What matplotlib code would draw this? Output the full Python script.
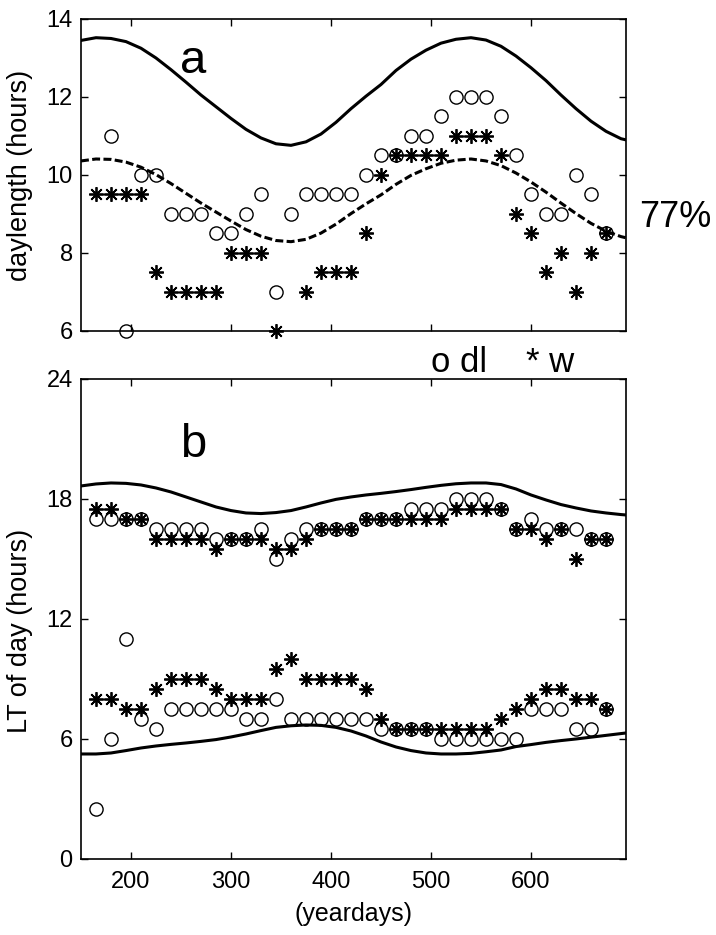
import matplotlib
matplotlib.use('Agg')
import matplotlib.pyplot as plt
import numpy as np

nan = np.nan

# ---------------- data ----------------
days = [165, 180, 195, 210, 225, 240, 255, 270, 285, 300, 315, 330, 345, 360,
        375, 390, 405, 420, 435, 450, 465, 480, 495, 510, 525, 540, 555, 570,
        585, 600, 615, 630, 645, 660, 675]

# panel a: daylength (hours)
dl_len = [nan, 11, 6, 10, 10, 9, 9, 9, 8.5, 8.5, 9, 9.5, 7, 9,
          9.5, 9.5, 9.5, 9.5, 10, 10.5, 10.5, 11, 11, 11.5, 12, 12, 12, 11.5,
          10.5, 9.5, 9, 9, 10, 9.5, 8.5]
w_len = [9.5, 9.5, 9.5, 9.5, 7.5, 7, 7, 7, 7, 8, 8, 8, 6, nan,
         7, 7.5, 7.5, 7.5, 8.5, 10, 10.5, 10.5, 10.5, 10.5, 11, 11, 11, 10.5,
         9, 8.5, 7.5, 8, 7, 8, 8.5]

# panel b: local time of day (hours)
dl_set = [17, 17, 17, 17, 16.5, 16.5, 16.5, 16.5, 16, 16, 16, 16.5, 15, 16,
          16.5, 16.5, 16.5, 16.5, 17, 17, 17, 17.5, 17.5, 17.5, 18, 18, 18, 17.5,
          16.5, 17, 16.5, 16.5, 16.5, 16, 16]
dl_rise = [2.5, 6, 11, 7, 6.5, 7.5, 7.5, 7.5, 7.5, 7.5, 7, 7, 8, 7,
           7, 7, 7, 7, 7, 6.5, 6.5, 6.5, 6.5, 6, 6, 6, 6, 6,
           6, 7.5, 7.5, 7.5, 6.5, 6.5, 7.5]
w_set = [17.5, 17.5, 17, 17, 16, 16, 16, 16, 15.5, 16, 16, 16, 15.5, 15.5,
         16, 16.5, 16.5, 16.5, 17, 17, 17, 17, 17, 17, 17.5, 17.5, 17.5, 17.5,
         16.5, 16.5, 16, 16.5, 15, 16, 16]
w_rise = [8, 8, 7.5, 7.5, 8.5, 9, 9, 9, 8.5, 8, 8, 8, 9.5, 10,
          9, 9, 9, 9, 8.5, 7, 6.5, 6.5, 6.5, 6.5, 6.5, 6.5, 6.5, 7,
          7.5, 8, 8.5, 8.5, 8, 8, 7.5]

# reference curves
curve_days = [150, 165, 180, 195, 210, 225, 240, 255, 270, 285, 300, 315, 330,
              345, 360, 375, 390, 405, 420, 435, 450, 465, 480, 495, 510, 525,
              540, 555, 570, 585, 600, 615, 630, 645, 660, 675, 690, 695]
daylength = [13.45, 13.52, 13.5, 13.42, 13.25, 13.0, 12.7, 12.38, 12.05, 11.75,
             11.45, 11.17, 10.95, 10.8, 10.76, 10.85, 11.05, 11.35, 11.7, 12.02,
             12.32, 12.68, 12.97, 13.2, 13.38, 13.48, 13.52, 13.46, 13.3, 13.05,
             12.75, 12.42, 12.05, 11.7, 11.38, 11.12, 10.93, 10.9]
daylength77 = [10.36, 10.41, 10.4, 10.33, 10.2, 10.01, 9.78, 9.53, 9.28, 9.05,
               8.82, 8.6, 8.43, 8.32, 8.29, 8.35, 8.51, 8.74, 9.01, 9.26,
               9.49, 9.76, 9.99, 10.16, 10.3, 10.38, 10.41, 10.36, 10.24, 10.05,
               9.82, 9.56, 9.28, 9.01, 8.76, 8.56, 8.42, 8.39]
sunset = [18.65, 18.75, 18.8, 18.78, 18.7, 18.55, 18.35, 18.1, 17.85, 17.6,
          17.42, 17.3, 17.27, 17.32, 17.42, 17.6, 17.8, 17.98, 18.1, 18.2,
          18.28, 18.37, 18.47, 18.58, 18.68, 18.76, 18.8, 18.8, 18.72, 18.5,
          18.2, 17.95, 17.72, 17.55, 17.4, 17.3, 17.22, 17.2]
sunrise = [5.25, 5.25, 5.3, 5.42, 5.55, 5.65, 5.73, 5.8, 5.88, 5.97,
           6.1, 6.25, 6.42, 6.58, 6.66, 6.7, 6.68, 6.58, 6.4, 6.15,
           5.85, 5.6, 5.42, 5.3, 5.25, 5.25, 5.28, 5.36, 5.45, 5.62,
           5.72, 5.83, 5.92, 6.0, 6.09, 6.18, 6.27, 6.3]

xticks = [200, 300, 400, 500, 600]
yticks_a = [6, 8, 10, 12, 14]
yticks_b = [0, 6, 12, 18, 24]

# ---------------- style ----------------
plt.rcParams['font.family'] = ['Liberation Sans', 'DejaVu Sans']
FS = 17
FS_LAB = 19.5
circ = dict(ls='none', marker='o', ms=9.5, mfc='none', mec='k', mew=1.0, clip_on=False, zorder=4)
star = dict(ls='none', marker=(8, 2, 0), ms=10.5, mec='k', mfc='k', mew=1.3, clip_on=False, zorder=5)

fig = plt.figure(figsize=(7.16, 9.35), dpi=100)
ax1 = fig.add_axes([0.1131, 0.6460, 0.7612, 0.3337])
ax2 = fig.add_axes([0.1131, 0.0813, 0.7612, 0.5134])

# panel a
ax1.plot(curve_days, daylength, color='k', lw=2.2, zorder=3)
ax1.plot(curve_days, daylength77, color='k', lw=2.2, dashes=(2.6, 1.1), zorder=3)
ax1.plot(days, dl_len, **circ)
ax1.plot(days, w_len, **star)
ax1.set_xlim(150, 695)
ax1.set_ylim(6, 14)
ax1.set_yticks(yticks_a)
ax1.set_xticks(xticks)
ax1.tick_params(labelbottom=False)
ax1.set_ylabel('daylength (hours)', fontsize=FS_LAB)
ax1.yaxis.set_label_coords(-0.088, 0.5)
ax1.text(0.182, 0.826, 'a', transform=ax1.transAxes, fontsize=34, ha='left', va='baseline')

# panel b
ax2.plot(curve_days, sunset, color='k', lw=2.2, zorder=3)
ax2.plot(curve_days, sunrise, color='k', lw=2.2, zorder=3)
ax2.plot(days, dl_set, **circ)
ax2.plot(days, dl_rise, **circ)
ax2.plot(days, w_set, **star)
ax2.plot(days, w_rise, **star)
ax2.set_xlim(150, 695)
ax2.set_ylim(0, 24)
ax2.set_yticks(yticks_b)
ax2.set_xticks(xticks)
ax2.set_xlabel('(yeardays)', fontsize=18, labelpad=6)
ax2.set_ylabel('LT of day (hours)', fontsize=FS_LAB)
ax2.yaxis.set_label_coords(-0.088, 0.475)
ax2.text(0.182, 0.838, 'b', transform=ax2.transAxes, fontsize=34, ha='left', va='baseline')

for ax in (ax1, ax2):
    ax.tick_params(direction='in', top=True, right=True, length=5, width=1.0,
                   labelsize=FS, pad=6)
    ax.tick_params(axis='x', pad=9)
    for s in ax.spines.values():
        s.set_linewidth(1.2)

fig.text(431 / 716, 1 - 372 / 935, 'o dl', fontsize=25, ha='left', va='baseline')
fig.text(526 / 716, 1 - 372 / 935, '* w', fontsize=25, ha='left', va='baseline')
fig.text(0.893, 1 - 227 / 935, '77%', fontsize=26, ha='left', va='baseline')

fig.savefig('out.png', dpi=100)
